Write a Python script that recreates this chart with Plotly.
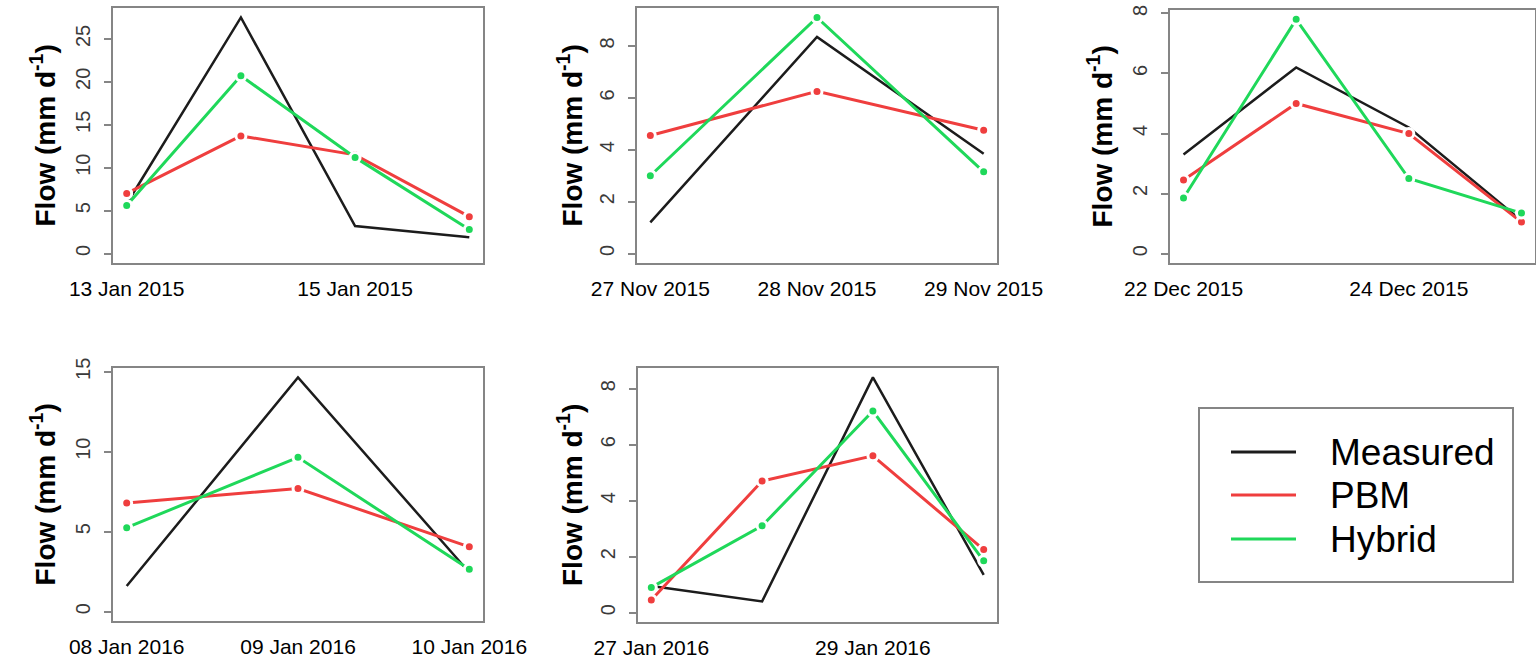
import pandas as pd
import plotly.graph_objects as go

# ---- data: daily flow (mm/d) for five storm events ----
event1_dates = ["2015-01-13", "2015-01-14", "2015-01-15", "2015-01-16"]
event1_measured = [5.8, 27.5, 3.2, 1.9]
event1_pbm = [7.0, 13.7, 11.5, 4.3]
event1_hybrid = [5.6, 20.7, 11.2, 2.8]
event1_ticks = ["2015-01-13", "2015-01-15"]

event2_dates = ["2015-11-27", "2015-11-28", "2015-11-29"]
event2_measured = [1.2, 8.35, 3.85]
event2_pbm = [4.55, 6.25, 4.75]
event2_hybrid = [3.0, 9.1, 3.15]
event2_ticks = ["2015-11-27", "2015-11-28", "2015-11-29"]

event3_dates = ["2015-12-22", "2015-12-23", "2015-12-24", "2015-12-25"]
event3_measured = [3.3, 6.2, 4.2, 1.1]
event3_pbm = [2.45, 5.0, 4.0, 1.05]
event3_hybrid = [1.85, 7.8, 2.5, 1.35]
event3_ticks = ["2015-12-22", "2015-12-24"]

event4_dates = ["2016-01-08", "2016-01-09", "2016-01-10"]
event4_measured = [1.6, 14.65, 2.45]
event4_pbm = [6.8, 7.7, 4.05]
event4_hybrid = [5.25, 9.65, 2.65]
event4_ticks = ["2016-01-08", "2016-01-09", "2016-01-10"]

event5_dates = ["2016-01-27", "2016-01-28", "2016-01-29", "2016-01-30"]
event5_measured = [0.95, 0.4, 8.4, 1.35]
event5_pbm = [0.45, 4.7, 5.6, 2.25]
event5_hybrid = [0.9, 3.1, 7.2, 1.85]
event5_ticks = ["2016-01-27", "2016-01-29"]

y_dticks = [5, 2, 2, 5, 2]
series_names = ["Measured", "PBM", "Hybrid"]

events = [
    (event1_dates, event1_measured, event1_pbm, event1_hybrid, event1_ticks),
    (event2_dates, event2_measured, event2_pbm, event2_hybrid, event2_ticks),
    (event3_dates, event3_measured, event3_pbm, event3_hybrid, event3_ticks),
    (event4_dates, event4_measured, event4_pbm, event4_hybrid, event4_ticks),
    (event5_dates, event5_measured, event5_pbm, event5_hybrid, event5_ticks),
]

# ---- layout / style ----
W, H = 1536, 661
# panel boxes in pixels: (left, right, top, bottom)
boxes = [
    (113, 483, 8, 263),
    (637, 997, 8, 263),
    (1170, 1535, 10, 263),
    (113, 483, 368, 621),
    (638, 997, 368, 622),
]
title_x_px = [43, 570, 1100, 43, 570]

COL_MEAS = "#1c1c1c"
COL_PBM = "#ef3e3e"
COL_HYB = "#1fd85a"
BOX_COL = "#858585"
FONT = "Liberation Sans, Arial, sans-serif"

fig = go.Figure()
layout = dict(
    width=W, height=H,
    margin=dict(l=0, r=0, t=0, b=0),
    paper_bgcolor="white", plot_bgcolor="white",
    showlegend=False,
    font=dict(family=FONT, color="black"),
    annotations=[], shapes=[],
)

for i, (dates, meas, pbm, hyb, ticks) in enumerate(events):
    k = i + 1
    xa = "x" if k == 1 else f"x{k}"
    ya = "y" if k == 1 else f"y{k}"
    d = pd.to_datetime(dates)

    fig.add_trace(go.Scatter(x=d, y=meas, mode="lines", name=series_names[0],
                             line=dict(color=COL_MEAS, width=2.5),
                             xaxis=xa, yaxis=ya))
    for vals, col, nm in ((pbm, COL_PBM, series_names[1]), (hyb, COL_HYB, series_names[2])):
        fig.add_trace(go.Scatter(x=d, y=vals, mode="lines+markers", name=nm,
                                 line=dict(color=col, width=3),
                                 marker=dict(color=col, size=10,
                                             line=dict(color="white", width=3)),
                                 xaxis=xa, yaxis=ya))

    # R-style 4% padding around the data range, y starting from zero
    span = d.max() - d.min()
    xr = [d.min() - 0.04 * span, d.max() + 0.04 * span]
    ymax = max(max(meas), max(pbm), max(hyb))
    yr = [-0.04 * ymax, 1.04 * ymax]

    l, r, t, b = boxes[i]
    tick_dates = pd.to_datetime(ticks)
    layout["xaxis" if k == 1 else f"xaxis{k}"] = dict(
        domain=[l / W, r / W], anchor=ya, range=xr,
        showgrid=False, zeroline=False,
        showline=True, mirror=True, linecolor=BOX_COL, linewidth=2,
        ticks="", tickvals=tick_dates,
        ticktext=[t_.strftime("%d %b %Y") for t_ in tick_dates],
        tickfont=dict(size=21, color="black", family=FONT),
        ticklabelstandoff=6, automargin=False,
    )
    layout["yaxis" if k == 1 else f"yaxis{k}"] = dict(
        domain=[1 - b / H, 1 - t / H], anchor=xa, range=yr,
        showgrid=False, zeroline=False,
        showline=True, mirror=True, linecolor=BOX_COL, linewidth=2,
        ticks="outside", ticklen=7, tickwidth=1.5, tickcolor=BOX_COL,
        dtick=y_dticks[i], tick0=0, tickangle=-90,
        tickfont=dict(size=20, color="#3a3a3a", family=FONT),
        ticklabelstandoff=6, automargin=False,
    )
    layout["annotations"].append(dict(
        text="Flow (mm d<sup>-1</sup>)", textangle=-90,
        xref="paper", yref="paper",
        x=title_x_px[i] / W, y=1 - (t + b) / 2 / H,
        xanchor="center", yanchor="middle", showarrow=False,
        font=dict(size=28, color="black", family=FONT, weight="bold"),
    ))

# ---- legend box ----
layout["shapes"].append(dict(
    type="rect", xref="paper", yref="paper",
    x0=1199 / W, x1=1513 / W, y0=1 - 582 / H, y1=1 - 408 / H,
    line=dict(color=BOX_COL, width=2), fillcolor="rgba(0,0,0,0)",
))
for name, col, ypx in zip(series_names, [COL_MEAS, COL_PBM, COL_HYB], [452, 495, 539]):
    layout["shapes"].append(dict(
        type="line", xref="paper", yref="paper",
        x0=1231 / W, x1=1296 / W, y0=1 - ypx / H, y1=1 - ypx / H,
        line=dict(color=col, width=3),
    ))
    layout["annotations"].append(dict(
        text=name, xref="paper", yref="paper",
        x=1328 / W, y=1 - ypx / H, xanchor="left", yanchor="middle",
        showarrow=False, font=dict(size=37, color="black", family=FONT),
    ))

fig.update_layout(**layout)
fig.write_html("out.html")
